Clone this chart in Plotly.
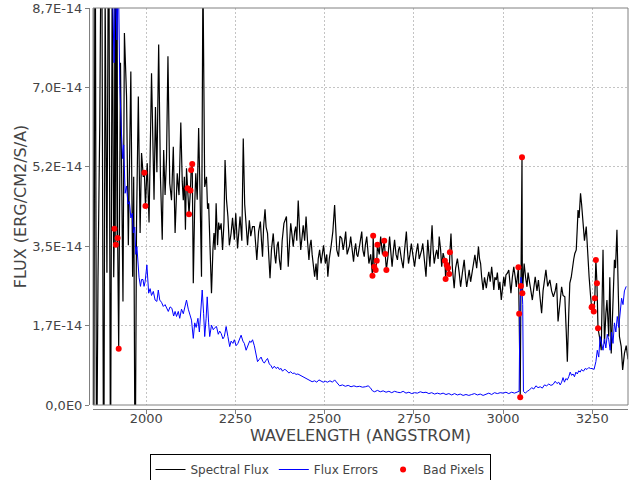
import plotly.graph_objects as go

SCALE = 1e-14

flux_wl = [1850,1853,1857,1861,1865,1870,1875,1881,1885,1890,1895,1900,1905,1909,1911,1913,1915,1918,1920,1923,
1928,1935,1939,1945,1950,1957,1962,1965,1969,1973,1978,1983,1987,1992,1995,1998,2003,2008,2015,2019,2022,2026,2030,
2035,2040,2045,2049,2053,2057,2061,2066,2071,2076,2081,2087,2092,2097,2101,2104,2107,2110,2113,2116,2120,2124,2126,
2129,2132,2136,2139,2143,2147,2151,2155,2159,2164,2169,2172,2175,2178,2183,2187,2190,2193,2196,2200,2203,2206,2210,
2214,2218,2221,2225,2229,2233,2238,2242,2247,2251,2256,2260,2263,2268,2272,2276,2280,2284,2289,2293,2298,2303,2307,
2310,2315,2320,2323,2326,2329,2333,2336,2340,2344,2347,2351,2356,2360,2363,2367,2370,2373,2377,2381,2386,2393,2398,
2402,2405,2409,2412,2416,2419,2422,2426,2430,2433,2437,2440,2444,2448,2452,2456,2459,2462,2465,2468,2472,2476,2479,
2482,2486,2490,2493,2497,2502,2506,2509,2513,2518,2523,2528,2531,2534,2539,2543,2548,2552,2555,2559,2563,2567,2570,
2573,2577,2581,2584,2587,2590,2593,2598,2604,2607,2611,2614,2618,2621,2624,2629,2634,2636,2639,2643,2646,2648,2653,
2657,2662,2667,2670,2673,2678,2682,2686,2689,2693,2696,2700,2704,2707,2710,2715,2720,2724,2729,2732,2735,2739,2743,
2747,2752,2756,2761,2765,2769,2772,2775,2780,2784,2789,2792,2795,2798,2801,2804,2807,2811,2814,2818,2821,2825,2828,
2832,2837,2839,2842,2846,2849,2851,2854,2858,2863,2867,2872,2877,2881,2886,2891,2895,2898,2902,2905,2909,2912,2917,
2921,2926,2931,2934,2937,2940,2944,2948,2953,2957,2960,2964,2968,2971,2974,2977,2981,2984,2988,2991,2995,2999,3002,
3005,3008,3012,3016,3019,3022,3026,3030,3034,3037,3040,3043,3045,3048,3050,3053,3054,3059,3063,3067,3070,3074,3078,
3082,3086,3090,3095,3099,3103,3108,3112,3116,3120,3125,3131,3136,3141,3146,3150,3154,3159,3164,3168,3173,3177,3180,
3184,3187,3191,3194,3198,3201,3205,3208,3210,3213,3217,3220,3224,3228,3233,3237,3241,3245,3248,3250,3254,3257,3260,
3263,3266,3270,3275,3280,3284,3288,3291,3296,3299,3303,3308,3312,3315,3319,3323,3326,3331,3335,3340,3345,3350]

flux_val = [11,-2,12,-2,2.8,6.2,12,-3,9,2.9,12,-2,10,2.8,3.86,12,3.51,11,3.66,1.23,
7.5,2.27,8.15,6.76,3.5,7.31,2.81,5.0,-2,4.0,6.76,3.77,5.52,5.0,5.09,4.36,5.3,4.0,7.27,5.66,4.5,6.53,5.1,
7.9,5.0,3.62,5.59,4.6,5.4,7.64,4.86,4.49,5.66,3.77,5.08,4.6,6.19,4.9,4.49,5.0,3.84,5.19,4.75,4.18,4.7,5.15,
5.28,2.67,4.4,5.08,4.5,6.07,4.6,2.81,9.5,4.78,5.0,4.3,4.42,3.8,2.45,3.4,3.77,3.4,4.42,3.5,4.0,3.84,3.98,
3.4,4.0,5.37,4.5,4.13,3.5,3.77,4.1,3.62,4.2,3.43,3.9,4.13,3.6,5.84,4.4,3.91,3.5,4.05,3.7,3.91,3.91,3.5,
3.18,3.8,4.02,3.6,3.25,3.9,4.29,3.9,3.76,3.2,2.78,3.4,3.76,3.3,3.1,3.5,3.58,3.2,2.96,3.6,3.98,4.13,3.03,
3.6,3.98,3.7,3.47,3.8,3.91,3.6,4.48,3.8,3.4,3.7,3.94,3.6,4.13,3.6,3.18,3.5,3.62,3.3,3.03,2.81,3.1,2.74,
3.2,3.4,3.1,3.25,3.5,3.1,3.3,2.81,3.2,3.47,3.8,4.38,3.8,3.4,3.25,3.7,3.65,3.4,3.54,3.8,3.3,3.4,3.5,
3.69,3.4,3.14,3.4,3.54,3.3,3.25,3.5,3.8,3.4,3.25,3.5,3.69,3.4,3.1,3.3,2.83,3.71,3.03,2.96,3.16,3.51,3.3,
3.69,3.3,3.6,3.31,2.96,3.3,3.69,3.3,3.03,3.4,3.62,3.3,3.18,3.4,3.47,3.2,3.0,3.4,3.8,3.4,3.1,3.3,3.54,
3.3,3.03,3.3,3.54,3.2,3.29,3.4,3.54,3.1,2.81,3.62,3.3,3.03,3.5,3.94,3.4,3.1,3.3,3.4,3.2,3.69,3.4,3.03,
3.33,3.16,2.76,3.07,3.0,2.87,3.35,3.76,3.0,2.56,3.0,3.21,2.9,2.59,2.9,3.18,2.8,2.59,2.8,2.96,2.7,2.85,3.0,
3.29,3.0,3.47,3.2,3.1,2.8,2.52,2.8,2.56,2.8,2.92,2.7,3.03,2.8,2.52,2.8,2.74,2.9,2.52,2.7,2.3,2.6,2.81,
2.6,2.85,2.89,2.96,2.7,2.45,2.8,3.03,2.8,2.59,2.8,3.02,2.0,0.17,2.61,5.43,2.45,3.1,2.8,2.59,2.9,2.74,2.5,
2.3,2.6,2.81,2.5,2.74,2.4,2.01,2.5,2.7,2.96,2.6,2.74,2.5,2.37,2.5,2.67,1.83,2.3,2.59,2.4,2.37,1.6,0.95,
2.0,2.67,2.8,3.03,3.2,3.32,3.4,3.9,4.27,4.1,4.64,4.4,3.91,3.6,3.91,3.2,2.81,2.4,2.14,2.16,2.05,2.34,3.18,
2.67,1.68,1.5,1.2,3.4,1.35,2.0,2.3,1.5,2.8,1.13,2.5,3.18,3.0,3.84,2.4,1.5,1.28,0.77,1.13,1.3,1.0]

err_wl = [1850,1903,1906,1910,1914,1918,1922,1926,1930,1934,1937,1941,1945,1949,1953,1957,1961,1964,1968,1971,1974,
1977,1980,1984,1987,1991,1994,1997,2002,2007,2011,2015,2020,2025,2030,2034,2038,2043,2048,2053,2058,2062,2067,2072,
2077,2081,2085,2090,2094,2099,2104,2109,2113,2118,2122,2127,2132,2136,2140,2145,2149,2153,2157,2161,2164,2168,2171,
2175,2178,2183,2188,2193,2197,2202,2206,2210,2215,2219,2224,2229,2234,2238,2243,2247,2252,2257,2262,2266,2271,2275,
2280,2285,2290,2294,2298,2303,2308,2312,2317,2322,2327,2331,2336,2340,2345,2350,2354,2359,2364,2369,2373,2378,2382,
2387,2391,2396,2400,2405,2410,2415,2420,2425,2430,2437,2445,2452,2458,2465,2472,2478,2484,2490,2496,2502,2508,2515,
2522,2528,2532,2537,2542,2550,2558,2566,2574,2582,2590,2598,2606,2614,2622,2628,2634,2640,2648,2656,2664,2672,2680,
2688,2696,2704,2712,2720,2728,2736,2744,2752,2760,2768,2776,2784,2792,2800,2808,2816,2824,2832,2840,2848,2856,2864,
2872,2880,2888,2896,2904,2912,2920,2928,2936,2944,2952,2960,2968,2976,2984,2992,3000,3008,3016,3024,3032,3040,3045,
3047,3050,3053,3055,3057,3062,3068,3074,3080,3086,3092,3098,3104,3110,3116,3122,3128,3134,3140,3146,3151,3156,3160,
3164,3168,3172,3176,3180,3184,3188,3192,3196,3200,3204,3208,3212,3216,3220,3225,3230,3235,3240,3245,3250,3255,3260,
3264,3268,3272,3276,3280,3284,3288,3292,3296,3300,3304,3308,3312,3316,3320,3324,3328,3332,3336,3340,3345]

err_val = [15,15,9.0,7.5,9.5,8.0,9.5,7.0,6.1,5.4,5.7,4.64,4.8,4.4,4.46,4.1,4.2,3.77,3.9,3.3,3.47,
3.0,2.8,2.6,2.75,2.75,2.6,2.7,3.07,2.45,2.55,2.4,2.49,2.3,2.27,2.52,2.3,2.25,2.16,2.2,2.1,2.05,2.15,2.12,
1.95,2.05,1.94,2.05,1.9,2.1,2.0,2.2,2.3,2.1,2.0,1.86,1.46,1.8,1.7,1.9,1.6,2.0,2.52,2.0,1.5,1.9,2.37,
1.8,1.5,1.75,1.65,1.7,1.72,1.55,1.62,1.57,1.45,1.5,1.72,1.5,1.28,1.4,1.35,1.43,1.3,1.35,1.45,1.53,1.4,1.35,
1.2,1.3,1.4,1.37,1.43,1.3,1.1,0.95,1.0,1.05,0.95,0.92,0.98,1.02,0.9,0.86,0.8,0.85,0.8,0.83,0.78,0.8,0.74,
0.78,0.77,0.73,0.7,0.73,0.69,0.7,0.67,0.68,0.66,0.62,0.6,0.56,0.55,0.51,0.53,0.5,0.55,0.52,0.5,0.52,0.5,0.53,
0.5,0.55,0.51,0.45,0.42,0.44,0.41,0.43,0.4,0.42,0.4,0.41,0.39,0.4,0.42,0.38,0.31,0.29,0.32,0.29,0.31,0.28,0.3,
0.27,0.3,0.28,0.27,0.3,0.26,0.28,0.25,0.27,0.26,0.29,0.27,0.28,0.25,0.27,0.24,0.26,0.24,0.26,0.23,0.25,0.22,0.25,
0.22,0.24,0.21,0.23,0.21,0.23,0.25,0.22,0.24,0.21,0.23,0.26,0.23,0.27,0.25,0.27,0.26,0.28,0.25,0.28,0.26,0.28,0.3,
2.0,2.8,2.6,2.2,0.3,0.26,0.3,0.33,0.38,0.35,0.42,0.38,0.4,0.37,0.44,0.42,0.46,0.43,0.45,0.52,0.47,0.5,0.44,
0.5,0.6,0.5,0.58,0.55,0.62,0.72,0.65,0.68,0.62,0.72,0.68,0.75,0.72,0.78,0.74,0.8,0.78,0.82,0.8,0.8,0.78,0.95,
1.2,1.05,1.5,1.3,1.2,1.45,1.25,1.55,1.43,1.2,1.6,1.35,1.8,1.6,1.94,1.7,2.0,2.34,2.2,2.5,2.6]

bad_wl = [1911,1915,1920,1923,1995,1998,2116,2120,2124,2126,2129,2634,2636,2639,2643,2646,2648,2667,2670,2673,
2837,2839,2842,2846,2849,2851,3043,3045,3048,3050,3053,3054,3248,3250,3254,3257,3260,3263,3266]
bad_val = [3.86,3.51,3.66,1.23,5.09,4.36,4.75,4.18,4.7,5.15,5.28,2.83,3.71,3.03,2.96,3.16,3.51,3.6,3.31,2.96,
3.16,2.76,3.07,3.0,2.87,3.35,3.02,2.0,0.17,2.61,5.43,2.45,2.14,2.16,2.05,2.34,3.18,2.67,1.68]

y_tickvals = [0, 1.74, 3.48, 5.22, 6.96, 8.7]
y_ticktext = ["0,0E0", "1,7E-14", "3,5E-14", "5,2E-14", "7,0E-14", "8,7E-14"]
x_tickvals = [2000, 2250, 2500, 2750, 3000, 3250]

FONT = "DejaVu Sans"
TXT = "#444444"
AX = "#808080"
GRID = "#c4c4c4"

fig = go.Figure()
fig.add_trace(go.Scatter(x=flux_wl, y=[v * SCALE for v in flux_val], mode="lines",
                         name="Spectral Flux", line=dict(color="black", width=1.2)))
fig.add_trace(go.Scatter(x=err_wl, y=[v * SCALE for v in err_val], mode="lines",
                         name="Flux Errors", line=dict(color="#0000ff", width=1)))
fig.add_trace(go.Scatter(x=bad_wl, y=[v * SCALE for v in bad_val], mode="markers",
                         name="Bad Pixels", marker=dict(color="#ff0000", size=6)))

W, H = 640, 480
ml, mr, mt, mb = 85, 12, 8, 71
pw = W - ml - mr
ph = H - mt - mb

fig.update_layout(
    width=W, height=H,
    margin=dict(l=ml, r=mr, t=mt, b=mb, pad=0, autoexpand=False),
    paper_bgcolor="white", plot_bgcolor="white",
    font=dict(family=FONT, size=12, color=TXT),
    showlegend=True,
    legend=dict(orientation="h", xref="container", yref="container",
                x=0.5, xanchor="center", y=1 - 454 / 480, yanchor="top",
                bordercolor="black", borderwidth=1, bgcolor="white",
                font=dict(family=FONT, size=12, color=TXT),
                itemwidth=30, tracegroupgap=0),
    xaxis=dict(range=[1851, 3350], domain=[8 / pw, 1], anchor="free", position=0,
               automargin=False,
               tickvals=x_tickvals, ticks="outside", ticklen=4, tickcolor=AX,
               ticklabelstandoff=-7,
               showline=True, linecolor=AX, linewidth=1,
               showgrid=True, gridcolor=GRID, griddash="2px,2px", gridwidth=1,
               zeroline=False, tickfont=dict(size=13, color=TXT),
               title=dict(text="WAVELENGTH (ANGSTROM)", font=dict(size=16, color=TXT), standoff=2)),
    yaxis=dict(range=[0, 8.7 * SCALE], domain=[4 / ph, 1], anchor="free", position=4 / pw,
               automargin=False,
               tickvals=[v * SCALE for v in y_tickvals], ticktext=y_ticktext,
               ticks="outside", ticklen=4, tickcolor=AX,
               showline=True, linecolor=AX, linewidth=1,
               showgrid=True, gridcolor=GRID, griddash="2px,2px", gridwidth=1,
               zeroline=False, tickfont=dict(size=13, color=TXT),
               title=dict(text="FLUX (ERG/CM2/S/A)", font=dict(size=16, color=TXT), standoff=0)),
)

fig.add_shape(type="rect", xref="x domain", yref="y domain", x0=0, x1=1, y0=0, y1=1,
              line=dict(color=AX, width=1), fillcolor="rgba(0,0,0,0)", layer="above")

fig.write_html("out.html", config={"displayModeBar": False},
               post_script="document.body.style.margin='0';document.body.style.padding='0';")
